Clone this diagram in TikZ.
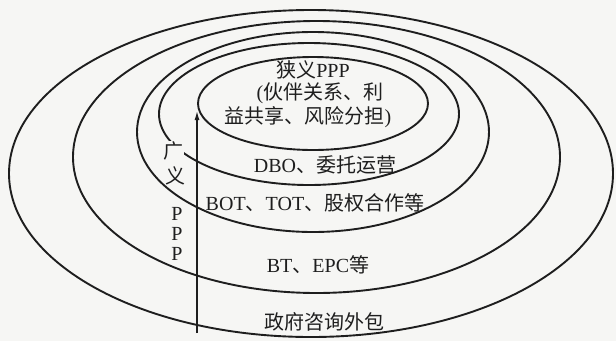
\documentclass[tikz,border=0pt]{standalone}
\usepackage{fontspec}
\setmainfont{Liberation Serif}
\newfontfamily\cjk{Noto Sans CJK SC}
\usetikzlibrary{arrows.meta}
\definecolor{bgcol}{RGB}{246,246,244}
\definecolor{inkcol}{RGB}{30,30,30}
\begin{document}
\begin{tikzpicture}[x=1pt,y=-1pt,
  ring/.style={draw=inkcol, line width=1.9pt},
  lbl/.style={font=\fontsize{20}{23}\selectfont, text=inkcol, inner sep=1pt},
  side/.style={font=\fontsize{20}{23}\selectfont, text=inkcol, inner sep=0.5pt}]
\fill[bgcol] (0,0) rectangle (616,341);
\useasboundingbox (0,0) rectangle (616,341);
% rings, outermost first
\draw[ring] (311,173.5) ellipse [x radius=302pt, y radius=163.5pt];
\draw[ring] (316.5,157) ellipse [x radius=243.5pt, y radius=136pt];
\draw[ring] (313,132) ellipse [x radius=176pt, y radius=100pt];
\draw[ring] (309,114) ellipse [x radius=150pt, y radius=71pt];
\draw[ring] (313,103.5) ellipse [x radius=115pt, y radius=46.5pt];
% arrow
\coordinate (ab) at (197,333);
\coordinate (at) at (197,111);
\draw[draw=inkcol, line width=1.3pt, -{Latex[length=9pt,width=5pt]}] (ab) -- (at);
% texts
\node[lbl] (n1) at (313,70) {{\cjk 狭义}PPP};
\node[lbl] (n2) at (320,93) {({\cjk 伙伴关系、利}};
\node[lbl] (n3) at (308,117) {{\cjk 益共享、风险分担})};
\node[lbl] (n4) at (325,165) {DBO{\cjk 、委托运营}};
\node[lbl] (n5) at (315,203) {BOT{\cjk 、}TOT{\cjk 、股权合作等}};
\node[lbl] (n6) at (318,265) {BT{\cjk 、}EPC{\cjk 等}};
\node[lbl] (n7) at (324,322) {{\cjk 政府咨询外包}};
% side label
\node[side, fill=bgcol] (g1) at (173,151) {\cjk 广};
\node[side] (g2) at (175,176) {\cjk 义};
\node[side] (g3) at (177,214) {P};
\node[side] (g4) at (177,234) {P};
\node[side] (g5) at (177,254) {P};
\end{tikzpicture}
\end{document}
